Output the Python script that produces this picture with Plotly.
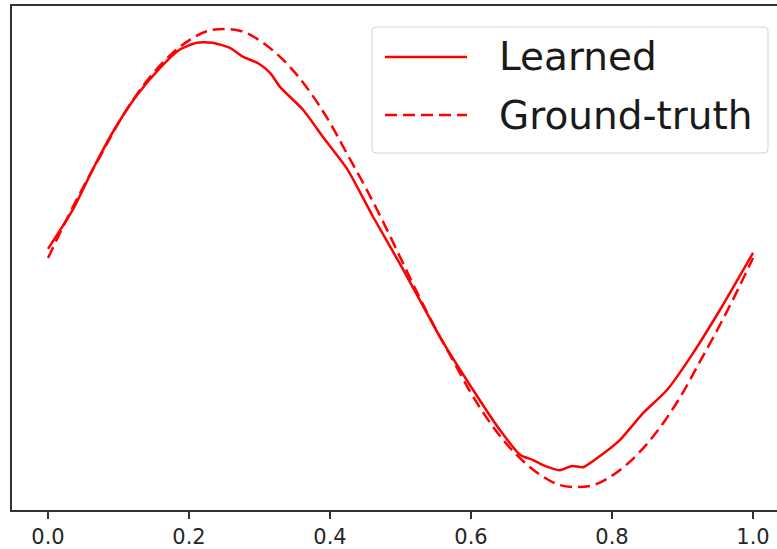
import plotly.graph_objects as go

# Learned curve
learned_x = [0.0, 0.035, 0.064, 0.092, 0.126, 0.159, 0.187, 0.211, 0.233, 0.258,
             0.277, 0.298, 0.315, 0.329, 0.362, 0.39, 0.424, 0.461, 0.5, 0.532,
             0.556, 0.603, 0.641, 0.67, 0.688, 0.702, 0.726, 0.743, 0.759, 0.779,
             0.811, 0.844, 0.878, 0.915, 0.953, 0.972, 1.0]
learned_y = [0.04, 0.21, 0.39, 0.55, 0.71, 0.83, 0.91, 0.94, 0.94, 0.917,
             0.878, 0.85, 0.808, 0.747, 0.646, 0.528, 0.39, 0.18, -0.03, -0.21,
             -0.345, -0.576, -0.751, -0.86, -0.882, -0.904, -0.926, -0.908, -0.913, -0.873,
             -0.795, -0.677, -0.576, -0.415, -0.227, -0.127, 0.022]

# Ground-truth curve
truth_x = [0.0, 0.025, 0.05, 0.075, 0.1, 0.125, 0.15, 0.175, 0.2, 0.225,
           0.25, 0.275, 0.3, 0.325, 0.35, 0.375, 0.4, 0.425, 0.45, 0.475,
           0.5, 0.525, 0.55, 0.575, 0.6, 0.625, 0.65, 0.675, 0.7, 0.725,
           0.75, 0.775, 0.8, 0.825, 0.85, 0.875, 0.9, 0.925, 0.95, 0.975, 1.0]
truth_y = [0.0, 0.16, 0.31, 0.45, 0.59, 0.71, 0.81, 0.89, 0.95, 0.99,
           1.0, 0.99, 0.95, 0.89, 0.81, 0.71, 0.59, 0.45, 0.31, 0.16,
           0.0, -0.16, -0.31, -0.45, -0.59, -0.71, -0.81, -0.89, -0.95, -0.99,
           -1.0, -0.99, -0.95, -0.89, -0.81, -0.71, -0.59, -0.45, -0.31, -0.16, 0.0]

x_ticks = [0.0, 0.2, 0.4, 0.6, 0.8, 1.0]
x_tick_labels = ["0.0", "0.2", "0.4", "0.6", "0.8", "1.0"]

series_names = ["Learned", "Ground-truth"]
series_dash = ["solid", "12px,6px"]
LINE_W = 2.5

fig = go.Figure()
fig.add_trace(go.Scatter(x=learned_x, y=learned_y, mode="lines", name=series_names[0],
                         showlegend=False,
                         line=dict(color="red", width=LINE_W, shape="spline", smoothing=0.6)))
fig.add_trace(go.Scatter(x=truth_x, y=truth_y, mode="lines", name=series_names[1],
                         showlegend=False,
                         line=dict(color="red", width=LINE_W, dash=series_dash[1], shape="spline")))

# ---- legend box drawn in paper coordinates (plot area: 12..777 px, 6..510 px)
W, H = 765.0, 504.0
def px(xp):
    return (xp - 12) / W
def py(yp):
    return (510 - yp) / H

bx0, bx1, by0, by1 = px(372), px(768), py(27), py(153)
rx, ry = 4 / W, 4 / H
path = (f"M {bx0+rx},{by0} L {bx1-rx},{by0} Q {bx1},{by0} {bx1},{by0-ry} "
        f"L {bx1},{by1+ry} Q {bx1},{by1} {bx1-rx},{by1} "
        f"L {bx0+rx},{by1} Q {bx0},{by1} {bx0},{by1+ry} "
        f"L {bx0},{by0-ry} Q {bx0},{by0} {bx0+rx},{by0} Z")
shapes = [dict(type="path", xref="paper", yref="paper", path=path,
               line=dict(color="#d4d4d4", width=1), fillcolor="rgba(255,255,255,0.8)",
               layer="above")]
annotations = []
row_y = [57, 115]
for name, dash, ry_px in zip(series_names, series_dash, row_y):
    shapes.append(dict(type="line", xref="paper", yref="paper",
                       x0=px(385), x1=px(467), y0=py(ry_px), y1=py(ry_px),
                       line=dict(color="red", width=LINE_W, dash=dash), layer="above"))
    annotations.append(dict(xref="paper", yref="paper", x=px(497), y=py(ry_px),
                            xanchor="left", yanchor="middle", showarrow=False,
                            text=name, font=dict(size=39, family="DejaVu Sans", color="#1a1a1a")))

fig.update_layout(
    width=777, height=549,
    margin=dict(l=12, r=0, t=6, b=39),
    paper_bgcolor="white", plot_bgcolor="white",
    font=dict(family="DejaVu Sans", color="#262626"),
    showlegend=False,
    shapes=shapes, annotations=annotations,
    xaxis=dict(
        range=[-0.0511, 1.034], tickvals=x_ticks, ticktext=x_tick_labels,
        ticks="outside", ticklen=7, tickwidth=1.5, tickcolor="#333",
        showline=True, linecolor="#333", linewidth=1.5, mirror=True,
        showgrid=False, zeroline=False,
        tickfont=dict(size=21, family="DejaVu Sans", color="#262626"),
    ),
    yaxis=dict(
        range=[-1.1, 1.1], showticklabels=False, ticks="",
        showline=True, linecolor="#333", linewidth=1.5, mirror=False,
        showgrid=False, zeroline=False,
    ),
)

fig.write_html("out.html")
